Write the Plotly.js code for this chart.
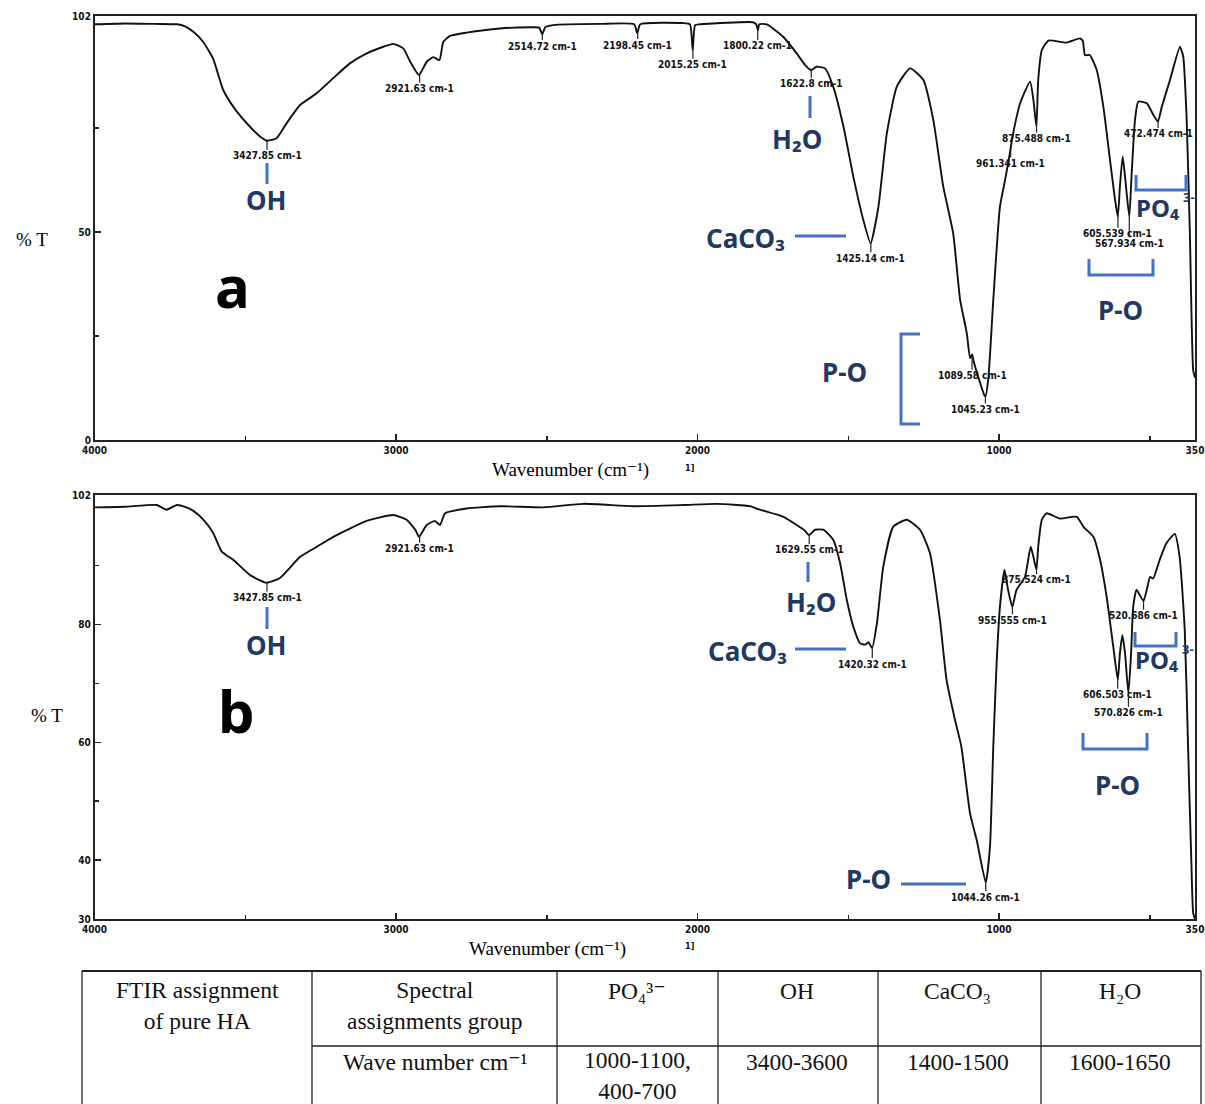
<!DOCTYPE html>
<html>
<head>
<meta charset="utf-8">
<script src="https://cdn.plot.ly/plotly-3.0.1.min.js"></script>
<style>html,body{margin:0;padding:0;background:#fff}#chart{width:1205px;height:1104px}</style>
</head>
<body>
<div id="chart"></div>
<script>
// ---------- DATA ----------
// Panel a: FTIR spectrum (wavenumber cm-1, %T)
const wavenumberA = [4000,3900,3800,3726,3700,3672,3640,3607,3573,3540,3495,3451,3428,3396,3362,3318,3263,3209,3153,3097,3042,3009,2976,2953,2924,2898,2876,2856,2843,2821,2766,2655,2545,2525,2515,2505,2479,2323,2210,2200,2190,2048,2025,2016,2008,1992,1816,1805,1800,1795,1770,1716,1671,1643,1623,1605,1577,1550,1516,1483,1450,1426,1400,1372,1339,1295,1251,1218,1185,1152,1129,1107,1096,1089,1085,1069,1049,1045,1035,1019,997,980,966,953,930,897,886,876,870,858,836,776,731,722,715,699,676,654,632,615,606,599,590,582,568,560,549,538,510,488,473,460,433,400,389,378,367,356,350];
const transmittanceA = [100.0,100.2,100.1,100.0,99.5,98.2,95.8,91.8,84.2,80.2,76.2,73.0,72.0,72.6,76.3,80.6,83.4,87.0,90.6,93.0,94.6,95.3,94.2,91.0,87.8,91.0,92.1,91.4,95.8,97.2,98.0,99.0,99.3,99.2,97.6,99.3,99.8,100.1,100.0,97.8,100.0,100.3,100.0,93.8,99.8,100.0,100.5,100.0,98.6,100.0,100.0,97.0,93.0,90.2,89.0,89.8,89.4,85.0,75.4,63.3,52.9,47.3,56.1,73.8,85.0,89.4,86.6,77.0,61.0,49.7,33.7,25.7,19.7,20.6,19.2,15.2,10.8,10.5,15.2,33.7,56.1,62.5,68.2,73.8,81.0,86.2,81.8,75.4,86.6,93.8,96.1,95.6,96.6,96.0,92.6,92.6,89.0,80.2,67.4,57.7,53.7,61.0,68.2,63.3,53.7,64.2,77.0,81.4,81.0,78.2,76.6,80.2,86.6,94.6,92.2,77.8,49.7,16.8,15.0];

// Panel b: FTIR spectrum
const wavenumberB = [4000,3900,3794,3761,3727,3700,3672,3639,3606,3578,3540,3484,3429,3385,3318,3263,3208,3153,3097,3009,2965,2953,2935,2924,2898,2871,2854,2837,2766,2655,2511,2379,2213,2047,1936,1826,1793,1715,1671,1645,1630,1610,1583,1550,1527,1505,1483,1461,1444,1433,1421,1405,1384,1351,1306,1262,1229,1196,1174,1146,1125,1096,1074,1044,1030,1019,1008,997,982,970,956,942,914,895,886,876,870,858,842,798,742,720,687,665,643,621,606,599,591,582,571,562,555,544,521,510,499,489,467,445,417,401,384,373,362,356,350];
const transmittanceB = [99.9,100.0,100.3,99.5,100.3,100.0,99.3,97.8,95.5,92.4,91.0,88.4,87.1,87.9,91.5,93.2,94.9,96.3,97.6,98.6,97.8,97.2,96.0,94.9,96.9,97.6,96.9,98.9,99.7,100.1,99.9,100.5,100.1,100.3,100.5,100.1,99.5,98.3,96.9,96.0,95.2,96.1,96.1,94.4,90.4,84.2,79.6,76.8,76.6,77.0,76.0,80.2,89.8,96.6,97.8,96.1,92.1,80.8,70.6,63.8,59.3,47.9,43.4,36.2,42.3,59.3,73.4,83.0,89.3,85.9,83.0,85.9,88.1,93.2,91.5,89.3,93.2,97.8,98.9,98.0,98.3,96.6,94.9,91.0,84.7,76.2,70.6,75.1,78.2,75.1,68.3,75.1,83.0,85.9,84.0,85.9,88.1,87.8,91.0,93.8,95.4,91.5,79.1,59.3,39.5,31.0,30.0];

// Labelled peaks
const peaksA = [3427.85, 2921.63, 2514.72, 2198.45, 2015.25, 1800.22, 1622.8, 1425.14, 1089.58, 1045.23, 961.341, 875.488, 605.539, 567.934, 472.474];
const peaksB = [3427.85, 2921.63, 1629.55, 1420.32, 1044.26, 955.555, 875.524, 520.686, 606.503, 570.826];

// Axis ticks
const xTickVals = [4000, 3000, 2000, 1000, 350];
const xTickText = ['4000', '3000', '2000', '1000', '350'];
const xMinorVals = [3500, 2500, 1500, 500];
const yTickValsA = [0, 50, 102];
const yMinorValsA = [25, 75];
const yTickValsB = [30, 40, 60, 80, 102];
const yMinorValsB = [50, 70, 90];

// Table
const tableCorner = 'FTIR assignment<br>of pure HA';
const tableRowHeads = ['Spectral<br>assignments group', 'Wave number cm⁻¹'];
const tableGroups = ['PO₄³⁻', 'OH', 'CaCO₃', 'H₂O'];
const tableRanges = ['1000-1100,<br>400-700', '3400-3600', '1400-1500', '1600-1650'];

// ---------- HELPERS ----------
const W = 1205, H = 1104;
const px = v => v / W;
const py = v => 1 - v / H;
function interp(xs, ys, x) {
  for (let i = 0; i < xs.length - 1; i++) {
    if (x <= xs[i] && x >= xs[i + 1]) {
      const t = (xs[i] - x) / (xs[i] - xs[i + 1]);
      return ys[i] + t * (ys[i + 1] - ys[i]);
    }
  }
  return ys[ys.length - 1];
}
const SMALL = '"DejaVu Sans Condensed", "Liberation Sans Narrow", "Arial Narrow", sans-serif';
const SERIF = '"Liberation Serif", "Times New Roman", "DejaVu Serif", serif';
const BOLDSANS = '"Noto Sans", "Open Sans", Lato, "DejaVu Sans", sans-serif';
const NAVY = '#1F3864';
const BLUE = '#4472C4';

// ---------- TRACES ----------
const traces = [
  {x: wavenumberA, y: transmittanceA, xaxis: 'x', yaxis: 'y', type: 'scatter', mode: 'lines',
   line: {color: '#111', width: 1.9, shape: 'spline', smoothing: 0.5}, hoverinfo: 'skip'},
  {x: wavenumberB, y: transmittanceB, xaxis: 'x2', yaxis: 'y2', type: 'scatter', mode: 'lines',
   line: {color: '#111', width: 1.9, shape: 'spline', smoothing: 0.5}, hoverinfo: 'skip'}
];

// ---------- AXES ----------
const tickFont = {family: SMALL, size: 10, color: '#111', weight: 'bold'};
function xAxis(anchor) {
  return {
    anchor: anchor, range: [4000, 350], domain: [px(94.5), px(1195)],
    tickmode: 'array', tickvals: xTickVals, ticktext: xTickText,
    ticks: 'inside', ticklen: 6, tickwidth: 1.5, tickcolor: '#222',
    minor: {tickmode: 'array', tickvals: xMinorVals, ticks: 'inside', ticklen: 4, tickwidth: 1.5, tickcolor: '#222', showgrid: false},
    showline: true, mirror: true, linecolor: '#222', linewidth: 1.6,
    showgrid: false, zeroline: false, tickfont: tickFont
  };
}
function yAxis(anchor, range, dom, vals, minorVals) {
  return {
    anchor: anchor, range: range, domain: dom,
    tickmode: 'array', tickvals: vals, ticktext: vals.map(String),
    ticks: 'inside', ticklen: 6, tickwidth: 1.5, tickcolor: '#222',
    minor: {tickmode: 'array', tickvals: minorVals, ticks: 'inside', ticklen: 4, tickwidth: 1.5, tickcolor: '#222', showgrid: false},
    showline: true, mirror: true, linecolor: '#222', linewidth: 1.6,
    showgrid: false, zeroline: false, tickfont: tickFont
  };
}

// ---------- ANNOTATIONS ----------
const annotations = [];
const dropA = [15, 15, 12, 13, 17, 16, 14, 16, 21, 13, 15, 16, 19, 27, 13];
const dropB = [15, 13, 15, 17, 15, 14, 12, 15, 16, 20];
function peakLabels(wns, xs, ys, xref, yref, drops) {
  wns.forEach((wn, i) => {
    annotations.push({
      x: wn, y: interp(xs, ys, wn), xref: xref, yref: yref,
      text: wn + ' cm-1', showarrow: true, arrowhead: 0, arrowwidth: 1.2, arrowcolor: '#222',
      ax: 0, ay: drops[i], standoff: 0, borderpad: 0,
      font: {family: SMALL, size: 10, color: '#111', weight: 'bold'}
    });
  });
}
peakLabels(peaksA, wavenumberA, transmittanceA, 'x', 'y', dropA);
peakLabels(peaksB, wavenumberB, transmittanceB, 'x2', 'y2', dropB);

function paperText(text, x, y, font, extra) {
  annotations.push(Object.assign({
    text: text, x: px(x), y: py(y), xref: 'paper', yref: 'paper',
    showarrow: false, xanchor: 'center', yanchor: 'middle', font: font
  }, extra || {}));
}
const groupFont = {family: BOLDSANS, size: 26, color: NAVY, weight: 'bold'};
const po4Font = {family: BOLDSANS, size: 24, color: NAVY, weight: 'bold'};
const chargeFont = {family: BOLDSANS, size: 13, color: NAVY, weight: 'bold'};
// panel a group labels
paperText('OH', 266, 200, groupFont);
paperText('H₂O', 797, 139, groupFont);
paperText('CaCO₃', 745, 238, groupFont);
paperText('P-O', 845, 372, groupFont);
paperText('P-O', 1120, 310, groupFont);
paperText('PO₄', 1134, 208, po4Font, {xanchor: 'left'});
paperText('3-', 1181, 197, chargeFont, {xanchor: 'left'});
paperText('a', 232, 286, {family: BOLDSANS, size: 58, color: '#000', weight: 'bold'});
// panel b group labels
paperText('OH', 266, 645, groupFont);
paperText('H₂O', 811, 602, groupFont);
paperText('CaCO₃', 747, 651, groupFont);
paperText('P-O', 868, 879, groupFont);
paperText('P-O', 1117, 785, groupFont);
paperText('PO₄', 1133, 659, po4Font, {xanchor: 'left'});
paperText('3-', 1180, 649, chargeFont, {xanchor: 'left'});
paperText('b', 236, 710, {family: BOLDSANS, size: 58, color: '#000', weight: 'bold'});
// axis titles
const titleFont = {family: SERIF, size: 19, color: '#000'};
paperText('Wavenumber (cm⁻¹)', 570, 470, titleFont);
paperText('Wavenumber (cm⁻¹)', 547, 949, titleFont);
paperText('% T', 32, 240, titleFont);
paperText('% T', 47, 715, titleFont);
paperText('1]', 689, 468, {family: SMALL, size: 9, color: '#111', weight: 'bold'});
paperText('1]', 689, 946, {family: SMALL, size: 9, color: '#111', weight: 'bold'});

// table text
const tableFont = {family: SERIF, size: 23.5, color: '#111'};
const colCenters = [637, 797, 958, 1120];
paperText(tableCorner, 197, 1005, tableFont);
paperText(tableRowHeads[0], 435, 1005, tableFont);
paperText(tableRowHeads[1], 435, 1062, tableFont);
tableGroups.forEach((g, i) => paperText(g, colCenters[i], 991, tableFont));
tableRanges.forEach((r, i) => paperText(r, colCenters[i], i === 0 ? 1075 : 1062, tableFont));

// ---------- SHAPES ----------
const shapes = [];
function pathShape(pts, color, width) {
  const d = pts.map((p, i) => (i ? 'L' : 'M') + px(p[0]) + ',' + py(p[1])).join(' ');
  shapes.push({type: 'path', path: d, xref: 'paper', yref: 'paper', line: {color: color, width: width}});
}
// panel a markers
pathShape([[267, 163], [267, 184]], BLUE, 3);
pathShape([[810, 96], [810, 118]], BLUE, 3);
pathShape([[795, 236], [846, 236]], BLUE, 3);
pathShape([[920, 334], [901, 334], [901, 424], [920, 424]], BLUE, 3);
pathShape([[1089, 259], [1089, 275], [1153, 275], [1153, 259]], BLUE, 3);
pathShape([[1136, 175], [1136, 190], [1186, 190], [1186, 175]], BLUE, 3);
// panel b markers
pathShape([[267, 607], [267, 629]], BLUE, 3);
pathShape([[808, 562], [808, 582]], BLUE, 3);
pathShape([[795, 649], [846, 649]], BLUE, 3);
pathShape([[901, 884], [966, 884]], BLUE, 3);
pathShape([[1083, 733], [1083, 749], [1147, 749], [1147, 733]], BLUE, 3);
pathShape([[1135, 632], [1135, 646], [1176, 646], [1176, 632]], BLUE, 3);
// table grid
const tableCols = [82, 312, 557, 718, 878, 1041, 1201];
pathShape([[82, 971], [1201, 971]], '#222', 2);
tableCols.forEach(c => pathShape([[c, 971], [c, 1110]], '#222', 1.3));
pathShape([[312, 1046], [1201, 1046]], '#222', 1.3);

// ---------- LAYOUT ----------
const layout = {
  width: W, height: H,
  margin: {l: 0, r: 0, t: 0, b: 0},
  paper_bgcolor: '#fff', plot_bgcolor: '#fff',
  showlegend: false,
  xaxis: xAxis('y'),
  yaxis: yAxis('x', [0, 102], [py(440), py(16)], yTickValsA, yMinorValsA),
  xaxis2: xAxis('y2'),
  yaxis2: yAxis('x2', [30, 102], [py(919), py(495)], yTickValsB, yMinorValsB),
  annotations: annotations,
  shapes: shapes
};

Plotly.newPlot('chart', traces, layout, {staticPlot: true, displayModeBar: false});
</script>
</body>
</html>
